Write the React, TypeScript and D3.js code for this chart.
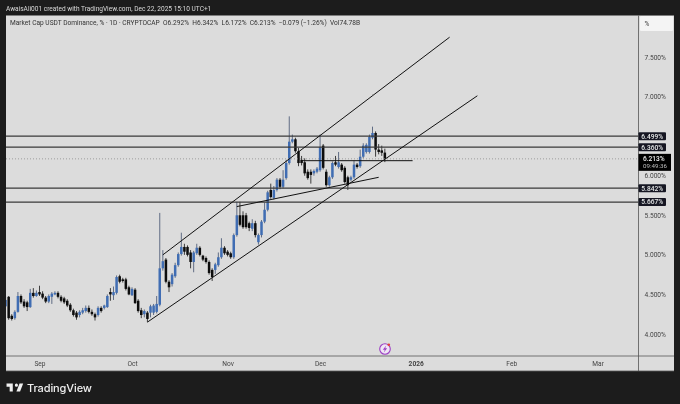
import React, { useEffect, useRef } from "react";
import * as d3 from "d3";

// daily candles, Aug 21 -> Dec 22 2025
const firstDay = "2025-08-21";
const opens = [
  4.35, 4.47, 4.23, 4.20, 4.28, 4.48, 4.41, 4.40, 4.34, 4.52, 4.48, 4.53, 4.51, 4.46, 4.41, 4.47, 4.50, 4.52, 4.47, 4.45, 4.42, 4.37, 4.30, 4.27, 4.24, 4.27,
  4.29, 4.33, 4.28, 4.25, 4.24, 4.33, 4.33, 4.34, 4.53, 4.49, 4.52, 4.73, 4.69, 4.69, 4.59, 4.49, 4.56, 4.42, 4.30, 4.25, 4.27, 4.27, 4.27, 4.28,
  4.37, 4.83, 4.94, 4.66, 4.63, 4.73, 4.87, 5.01, 5.10, 5.10, 5.03, 4.91, 5.02, 5.09, 4.99, 4.96, 4.91, 4.81, 4.81, 4.87, 4.97, 5.09, 5.04, 5.02,
  4.97, 5.25, 5.50, 5.50, 5.50, 5.40, 5.33, 5.40, 5.16, 5.25, 5.42, 5.57, 5.82, 5.72, 5.82, 5.95, 5.86, 5.97, 6.16, 6.43, 6.46, 6.31, 6.20, 6.17, 6.05,
  6.05, 6.03, 6.05, 6.07, 6.38, 6.05, 5.88, 5.98, 6.17, 6.11, 6.14, 6.10, 5.98, 5.95, 5.98, 6.14, 6.12, 6.24, 6.30, 6.30, 6.48, 6.54, 6.33, 6.32, 6.292,
];
const highs = [
  4.47, 4.48, 4.25, 4.30, 4.53, 4.50, 4.44, 4.42, 4.57, 4.58, 4.55, 4.61, 4.54, 4.48, 4.50, 4.53, 4.54, 4.54, 4.49, 4.47, 4.44, 4.39, 4.32, 4.29, 4.30, 4.33,
  4.36, 4.36, 4.31, 4.27, 4.35, 4.35, 4.37, 4.50, 4.58, 4.60, 4.74, 4.75, 4.71, 4.71, 4.61, 4.59, 4.58, 4.44, 4.33, 4.31, 4.29, 4.37, 4.38, 4.48,
  5.53, 5.06, 4.96, 4.68, 4.77, 4.90, 5.03, 5.28, 5.14, 5.12, 5.06, 5.05, 5.14, 5.11, 5.00, 4.98, 4.93, 4.83, 4.90, 5.03, 5.21, 5.11, 5.06, 5.04,
  5.27, 5.67, 5.67, 5.55, 5.53, 5.42, 5.45, 5.43, 5.27, 5.44, 5.66, 5.81, 5.90, 5.87, 5.97, 5.97, 6.07, 6.20, 6.75, 6.52, 6.48, 6.35, 6.25, 6.22, 6.08,
  6.08, 6.08, 6.11, 6.52, 6.40, 6.08, 6.00, 6.18, 6.25, 6.30, 6.16, 6.12, 6.00, 6.00, 6.19, 6.16, 6.33, 6.41, 6.41, 6.52, 6.62, 6.56, 6.40, 6.38, 6.342,
];
const lows = [
  4.34, 4.18, 4.17, 4.18, 4.27, 4.38, 4.33, 4.29, 4.33, 4.46, 4.47, 4.48, 4.44, 4.39, 4.39, 4.38, 4.49, 4.45, 4.40, 4.38, 4.34, 4.28, 4.22, 4.18, 4.21, 4.25,
  4.27, 4.26, 4.23, 4.17, 4.22, 4.27, 4.31, 4.33, 4.42, 4.43, 4.50, 4.64, 4.65, 4.55, 4.49, 4.48, 4.38, 4.27, 4.20, 4.21, 4.15, 4.21, 4.24, 4.26,
  4.35, 4.80, 4.64, 4.53, 4.60, 4.71, 4.85, 4.99, 5.00, 4.98, 4.83, 4.78, 5.00, 4.98, 4.92, 4.89, 4.75, 4.67, 4.76, 4.85, 4.95, 5.00, 4.98, 4.95,
  4.95, 5.23, 5.36, 5.33, 5.33, 5.30, 5.30, 5.22, 5.13, 5.22, 5.40, 5.55, 5.71, 5.70, 5.80, 5.83, 5.84, 5.95, 6.14, 6.41, 6.29, 6.12, 6.13, 6.00, 5.95,
  5.90, 6.00, 6.03, 6.05, 6.08, 5.86, 5.86, 5.96, 6.12, 6.09, 6.05, 5.90, 5.82, 5.93, 5.96, 6.09, 6.10, 6.22, 6.28, 6.28, 6.46, 6.24, 6.27, 6.25, 6.172,
];
const closes = [
  4.43, 4.20, 4.19, 4.28, 4.48, 4.40, 4.35, 4.34, 4.52, 4.48, 4.52, 4.50, 4.46, 4.41, 4.48, 4.51, 4.52, 4.47, 4.42, 4.40, 4.36, 4.30, 4.24, 4.21, 4.28, 4.30,
  4.33, 4.28, 4.25, 4.21, 4.33, 4.29, 4.36, 4.48, 4.50, 4.53, 4.72, 4.66, 4.67, 4.57, 4.50, 4.57, 4.39, 4.29, 4.24, 4.29, 4.19, 4.35, 4.36, 4.38,
  4.83, 4.92, 4.66, 4.59, 4.75, 4.87, 5.01, 5.10, 5.04, 5.00, 4.91, 5.03, 5.09, 5.00, 4.94, 4.91, 4.77, 4.72, 4.88, 4.97, 5.09, 5.02, 5.00, 4.97,
  5.25, 5.50, 5.38, 5.35, 5.35, 5.34, 5.40, 5.25, 5.25, 5.42, 5.57, 5.79, 5.73, 5.82, 5.95, 5.86, 5.95, 6.16, 6.43, 6.46, 6.31, 6.16, 6.16, 6.03, 5.97,
  6.01, 6.06, 6.09, 6.36, 6.10, 5.88, 5.98, 6.16, 6.14, 6.17, 6.07, 5.92, 5.88, 5.98, 6.14, 6.11, 6.24, 6.38, 6.39, 6.49, 6.54, 6.33, 6.30, 6.29, 6.213,
];

// 6.500% is covered by the 6.499% tag in the picture
const priceTicks = [4, 4.5, 5, 5.5, 6, 7, 7.5];
const monthTicks = ["2025-09-01", "2025-10-01", "2025-11-01", "2025-12-01", "2026-01-01", "2026-02-01", "2026-03-01"];
const monthLabels = ["Sep", "Oct", "Nov", "Dec", "2026", "Feb", "Mar"];

// horizontal levels drawn on the chart
const levels = [6.499, 6.36, 5.842, 5.667];
const lastPrice = 6.213;
const countdown = "09:49:36";

// trend lines: start date, start price, end date, end price
const trendStart = ["2025-10-11", "2025-10-06", "2025-11-04", "2025-11-25"];
const trendStartPrice = [5.0, 4.15, 5.61, 6.19];
const trendEnd = ["2026-01-12", "2026-01-21", "2025-12-20", "2025-12-31"];
const trendEndPrice = [7.75, 7.01, 5.98, 6.19];

// the tiny speck above the December candles
const speckDay = "2025-12-18";
const speckPrice = 7.02;

const headerText = "AwaisAli001 created with TradingView.com, Dec 22, 2025 15:10 UTC+1";
const legendText = "Market Cap USDT Dominance, % · 1D · CRYPTOCAP  O6.292%  H6.342%  L6.172%  C6.213%  −0.079 (−1.26%)  Vol74.78B";

const width = 680;
const height = 404;
const FONT = "Roboto, 'Liberation Sans', sans-serif";
const UP = "#3f6db3";
const DOWN = "#0b0b0b";

function App() {
  const ref = useRef<SVGSVGElement>(null);

  useEffect(() => {
    const panel = { left: 6, right: 674, top: 15.5, bottom: 371 };
    const axisX = 638.5;
    const axisY = 356;

    const x = d3.scaleUtc()
      .domain([new Date("2025-09-01"), new Date("2026-03-01")])
      .range([39.5, 597.6]);
    const y = d3.scaleLinear().domain([4, 7.5]).range([334, 57]);
    const day = (i: number) => d3.utcDay.offset(new Date(firstDay), i);

    const root = d3.select(ref.current);
    root.selectAll("*").remove();

    // the reference is a soft, re-compressed screenshot
    root.append("filter").attr("id", "soft")
      .attr("filterUnits", "userSpaceOnUse").attr("x", 0).attr("y", 0).attr("width", width).attr("height", height)
      .append("feGaussianBlur").attr("stdDeviation", 0.35);
    const svg = root.append("g").attr("filter", "url(#soft)");

    svg.append("rect").attr("width", width).attr("height", height).attr("fill", "#1e1e1e");
    svg.append("rect")
      .attr("x", panel.left).attr("y", panel.top)
      .attr("width", panel.right - panel.left).attr("height", panel.bottom - panel.top)
      .attr("fill", "#dcdcdc");

    root.append("clipPath").attr("id", "plot").append("rect")
      .attr("x", panel.left).attr("y", panel.top)
      .attr("width", axisX - panel.left).attr("height", axisY - panel.top);
    const plot = svg.append("g").attr("clip-path", "url(#plot)");

    // candles
    const candles = plot.append("g").selectAll("g").data(opens).enter().append("g");
    candles.append("line")
      .attr("x1", (d, i) => x(day(i))).attr("x2", (d, i) => x(day(i)))
      .attr("y1", (d, i) => y(highs[i])).attr("y2", (d, i) => y(lows[i]))
      .attr("stroke", (d, i) => (closes[i] >= d ? "#52607a" : "#2c2c2c"))
      .attr("stroke-width", 0.9);
    candles.append("rect")
      .attr("x", (d, i) => x(day(i)) - 1.25)
      .attr("width", 2.5)
      .attr("y", (d, i) => y(Math.max(d, closes[i])))
      .attr("height", (d, i) => Math.max(0.8, Math.abs(y(d) - y(closes[i]))))
      .attr("fill", (d, i) => (closes[i] >= d ? UP : DOWN));

    // last price dotted line
    plot.append("line")
      .attr("x1", panel.left).attr("x2", axisX)
      .attr("y1", y(lastPrice)).attr("y2", y(lastPrice))
      .attr("stroke", "#8f8f8f").attr("stroke-width", 0.8).attr("stroke-dasharray", "1,2");

    // level lines
    plot.append("g").selectAll("line").data(levels).enter().append("line")
      .attr("x1", panel.left).attr("x2", axisX)
      .attr("y1", d => y(d)).attr("y2", d => y(d))
      .attr("stroke", "#3a3a3a").attr("stroke-width", 1.2);

    // trend lines
    plot.append("g").selectAll("line").data(trendStart).enter().append("line")
      .attr("x1", d => x(new Date(d)))
      .attr("y1", (d, i) => y(trendStartPrice[i]))
      .attr("x2", (d, i) => x(new Date(trendEnd[i])))
      .attr("y2", (d, i) => y(trendEndPrice[i]))
      .attr("stroke", "#111").attr("stroke-width", 1);

    plot.append("circle")
      .attr("cx", x(new Date(speckDay))).attr("cy", y(speckPrice)).attr("r", 0.6).attr("fill", "#666");

    // price axis
    const yAxis = svg.append("g")
      .attr("transform", `translate(${axisX}, 0)`)
      .call(d3.axisRight(y).tickValues(priceTicks).tickSize(0).tickPadding(6).tickFormat(d => `${d3.format(".3f")(+d)}%`));
    yAxis.select(".domain").remove();
    yAxis.selectAll("text").attr("font-family", FONT).attr("font-size", 6.6).attr("fill", "#444");

    // time axis
    const xAxis = svg.append("g")
      .attr("transform", `translate(0, ${axisY})`)
      .call(d3.axisBottom(x).tickValues(monthTicks.map(d => new Date(d))).tickSize(0).tickPadding(5)
        .tickFormat((d, i) => monthLabels[i]));
    xAxis.select(".domain").remove();
    xAxis.selectAll("text")
      .attr("font-family", FONT).attr("font-size", 6.6).attr("fill", "#444")
      .attr("font-weight", (d, i) => (monthLabels[i] === "2026" ? 700 : 400));

    // panel separators
    const border = "#555";
    svg.append("line").attr("x1", axisX).attr("x2", axisX).attr("y1", panel.top).attr("y2", panel.bottom).attr("stroke", border).attr("stroke-width", 0.8);
    svg.append("line").attr("x1", panel.left).attr("x2", panel.right).attr("y1", axisY).attr("y2", axisY).attr("stroke", border).attr("stroke-width", 0.8);
    svg.append("line").attr("x1", panel.left).attr("x2", panel.right).attr("y1", panel.bottom).attr("y2", panel.bottom).attr("stroke", border).attr("stroke-width", 0.8);

    // % button
    svg.append("rect").attr("x", axisX + 1.5).attr("y", 16).attr("width", 33).attr("height", 15).attr("rx", 1).attr("fill", "#f4f4f4");
    svg.append("text").attr("x", 647).attr("y", 25.5).attr("text-anchor", "middle")
      .attr("font-family", FONT).attr("font-size", 6.6).attr("fill", "#444").text("%");

    // level labels
    const tags = svg.append("g").selectAll("g").data(levels).enter().append("g");
    tags.append("rect")
      .attr("x", axisX).attr("y", d => y(d) - 4).attr("width", 27.5).attr("height", 8).attr("rx", 1)
      .attr("fill", "#141824");
    tags.append("text")
      .attr("x", axisX + 13.7).attr("y", d => y(d) + 2.4).attr("text-anchor", "middle")
      .attr("font-family", FONT).attr("font-size", 6.6).attr("font-weight", 500).attr("fill", "#e8e8e8")
      .text(d => `${d3.format(".3f")(d)}%`);

    // last price label
    const last = svg.append("g");
    last.append("rect").attr("x", axisX).attr("y", y(lastPrice) - 5).attr("width", 32.5).attr("height", 17).attr("fill", "#050505");
    last.append("text").attr("x", axisX + 4.5).attr("y", y(lastPrice) + 1.8)
      .attr("font-family", FONT).attr("font-size", 6.6).attr("font-weight", 500).attr("fill", "#eee")
      .text(`${d3.format(".3f")(lastPrice)}%`);
    last.append("text").attr("x", axisX + 4.5).attr("y", y(lastPrice) + 9.4)
      .attr("font-family", FONT).attr("font-size", 6.2).attr("fill", "#bbb").text(countdown);

    // header and legend
    svg.append("text").attr("x", 6).attr("y", 11)
      .attr("font-family", FONT).attr("font-size", 6.55).attr("fill", "#d8d8d8").text(headerText);
    svg.append("text").attr("x", 10).attr("y", 25.2)
      .attr("font-family", FONT).attr("font-size", 6.6).attr("fill", "#333").style("white-space", "pre").text(legendText);

    // lightning marker
    const mark = svg.append("g").attr("transform", "translate(385, 349)");
    mark.append("circle").attr("r", 5.3).attr("fill", "#efe6f5").attr("stroke", "#9c3fc4").attr("stroke-width", 1.1);
    mark.append("path").attr("d", "M1.2,-3.4 L-2.2,0.7 L-0.2,0.7 L-1.2,3.4 L2.2,-0.7 L0.2,-0.7 Z").attr("fill", "#9c3fc4");
    mark.append("circle").attr("cx", 3.8).attr("cy", -4.2).attr("r", 1.3).attr("fill", "#e8413a");

    // logo
    svg.append("path")
      .attr("transform", "translate(5.5, 380.5) scale(0.52)")
      .attr("d", "M14 6H2v6h6v9h6V6zm14 15h-7l6-15h7l-6 15zm-7-9a3 3 0 1 0 0-6 3 3 0 0 0 0 6z")
      .attr("fill", "#f0f0f0");
    svg.append("text").attr("x", 27).attr("y", 392.3)
      .attr("font-family", "Inter, Roboto, sans-serif").attr("font-size", 11).attr("font-weight", 500).attr("letter-spacing", -0.1).attr("fill", "#f0f0f0")
      .text("TradingView");
  }, []);

  return <svg ref={ref} width={width} height={height} style={{ position: "absolute", left: 0, top: 0 }} />;
}

export default App;
